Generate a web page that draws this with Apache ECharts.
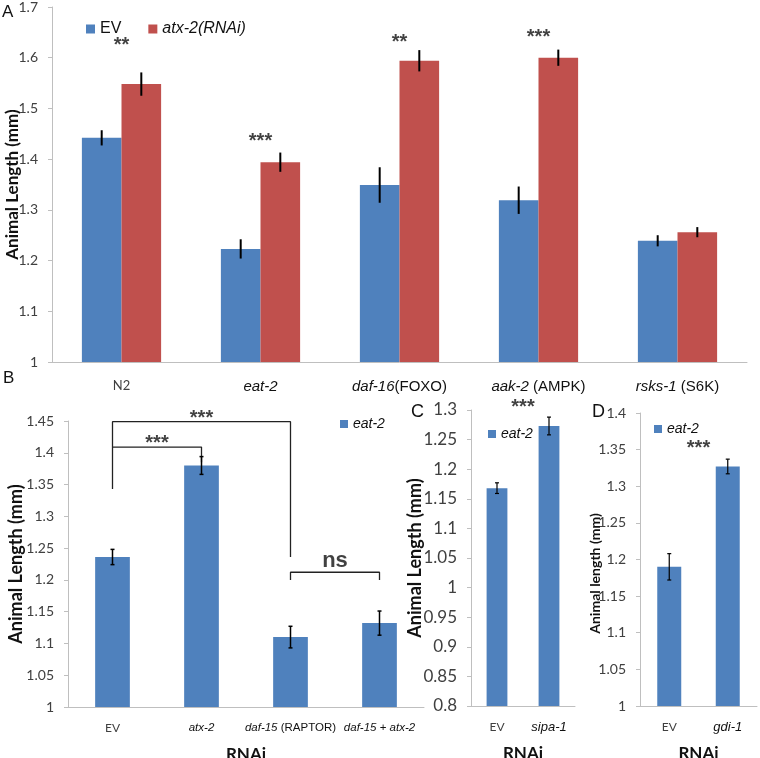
<!DOCTYPE html>
<html>
<head>
<meta charset="utf-8">
<script src="https://cdn.jsdelivr.net/npm/echarts@6/dist/echarts.min.js"></script>
<style>html,body{margin:0;padding:0;background:#fff;}#c{width:760px;height:758px;}</style>
</head>
<body>
<div id="c"></div>
<script>
// ---------- data ----------
const catsA = ['N2', 'eat-2', 'daf-16(FOXO)', 'aak-2 (AMPK)', 'rsks-1 (S6K)'];
const evA = [1.442, 1.223, 1.349, 1.319, 1.239];
const evErrA = [0.015, 0.019, 0.035, 0.027, 0.011];
const rnaiA = [1.548, 1.394, 1.594, 1.600, 1.256];
const rnaiErrA = [0.023, 0.019, 0.021, 0.016, 0.010];
const sigA = ['**', '***', '**', '***'];
const sigYA = [1.625, 1.435, 1.63, 1.64];

const catsB = ['EV', 'atx-2', 'daf-15 (RAPTOR)', 'daf-15 + atx-2'];
const valsB = [1.236, 1.380, 1.110, 1.132];
const errB = [0.012, 0.014, 0.017, 0.019];
const bracketsB = [
  [[0, 1.343], [0, 1.409], [1, 1.409], [1, 1.385]],
  [[0, 1.409], [0, 1.449], [2, 1.449], [2, 1.236]],
  [[2, 1.200], [2, 1.212], [3, 1.212], [3, 1.200]]
];
const sigB = [
  { text: '***', x: 0.5, y: 1.414 },
  { text: '***', x: 1.0, y: 1.454 },
  { text: 'ns', x: 2.5, y: 1.23 }
];

const catsC = ['EV', 'sipa-1'];
const valsC = [1.168, 1.273];
const errC = [0.009, 0.015];
const sigC = [{ text: '***', x: 0.5, y: 1.305 }];

const catsD = ['EV', 'gdi-1'];
const valsD = [1.190, 1.327];
const errD = [0.018, 0.010];
const sigD = [{ text: '***', x: 0.5, y: 1.352 }];

// ---------- styles ----------
const BLUE = '#4F81BD', RED = '#C0504D', AXIS = '#BFBFBF', TXT = '#404040';
const NUMFONT = 'Lato, "Open Sans", sans-serif';
const SANS = '"Liberation Sans", Arial, sans-serif';

function catFmt(name) {
  if (!/[a-z]+-\d+/.test(name)) return '{c|' + name + '}';
  return name.split(/([a-z]+-\d+)/).filter(s => s.length).map(s =>
    /^[a-z]+-\d+$/.test(s) ? '{i|' + s + '}' : '{n|' + s + '}').join('');
}
function catRich(sz, csz) {
  return {
    c: { fontFamily: NUMFONT, fontSize: csz, color: TXT },
    i: { fontFamily: SANS, fontStyle: 'italic', fontSize: sz, color: '#111' },
    n: { fontFamily: SANS, fontSize: sz, color: '#111' }
  };
}

function errSeries(name, xi, vals, errs, off, width, cap) {
  return {
    type: 'custom', name: name + '-err', xAxisIndex: xi, yAxisIndex: xi, silent: true, z: 5,
    data: vals.map((v, i) => [i, v, errs[i]]),
    renderItem: function (params, api) {
      const idx = api.value(0), v = api.value(1), e = api.value(2);
      const band = api.size([1, 0])[0];
      const top = api.coord([idx, v + e]);
      const bot = api.coord([idx, v - e]);
      const cx = top[0] + off * band;
      const style = { stroke: '#000', lineWidth: width };
      const children = [{ type: 'line', shape: { x1: cx, y1: top[1], x2: cx, y2: bot[1] }, style: style }];
      if (cap > 0) {
        children.push({ type: 'line', shape: { x1: cx - cap / 2, y1: top[1], x2: cx + cap / 2, y2: top[1] }, style: style });
        children.push({ type: 'line', shape: { x1: cx - cap / 2, y1: bot[1], x2: cx + cap / 2, y2: bot[1] }, style: style });
      }
      return { type: 'group', children: children };
    }
  };
}

function sigSeries(xi, yi, items, size) {
  return {
    type: 'scatter', xAxisIndex: xi, yAxisIndex: yi, symbolSize: 0, silent: true, clip: false, z: 6,
    data: items.map(it => ({ name: it.text, value: [it.x, it.y] })),
    label: { show: true, position: 'inside', formatter: '{b}', fontFamily: SANS, fontWeight: 'bold', fontSize: size, color: '#111' }
  };
}

function bracketSeries(xi, yi, pts) {
  return {
    type: 'line', xAxisIndex: xi, yAxisIndex: yi, data: pts, symbol: 'none', silent: true, clip: false, z: 4,
    lineStyle: { color: '#222', width: 1.3 }
  };
}

const gridBase = { containLabel: false, outerBoundsMode: 'none' };
const grids = [
  Object.assign({ left: 52, top: 7, width: 695, height: 355 }, gridBase),
  Object.assign({ left: 68, top: 421, width: 356, height: 286 }, gridBase),
  Object.assign({ left: 471, top: 410, width: 104, height: 296 }, gridBase),
  Object.assign({ left: 640, top: 413, width: 117, height: 293 }, gridBase)
];

function catAxis(gi, cats, sz, csz, margin, nameTxt) {
  return {
    type: 'category', gridIndex: gi, data: cats,
    axisLine: { onZero: false, lineStyle: { color: AXIS, width: 1 } },
    axisTick: { lineStyle: { color: AXIS }, length: 5 },
    axisLabel: { formatter: catFmt, rich: catRich(sz, csz), margin: margin, interval: 0, hideOverlap: false },
    name: nameTxt || '', nameLocation: 'middle', nameGap: 39, nameMoveOverlap: false,
    nameTextStyle: { fontFamily: NUMFONT, fontWeight: 'bold', fontSize: 17, color: '#111' }
  };
}
function valAxis(gi, min, max, interval, nameTxt, gap, fs, nfs, npad) {
  return {
    type: 'value', gridIndex: gi, min: min, max: max, interval: interval,
    splitLine: { show: false },
    axisLine: { show: true, onZero: false, lineStyle: { color: AXIS } },
    axisTick: { show: true, length: 4, lineStyle: { color: AXIS } },
    axisLabel: { fontFamily: NUMFONT, fontSize: fs, color: TXT, margin: 14 },
    name: nameTxt, nameLocation: 'middle', nameGap: gap, nameMoveOverlap: false,
    nameTextStyle: { fontFamily: NUMFONT, fontWeight: 'bold', fontSize: nfs, color: '#111', padding: npad || 0 }
  };
}
function hiddenX(gi, n) {
  return { type: 'value', gridIndex: gi, min: -0.5, max: n - 0.5, show: false, axisLine: { onZero: false } };
}

const option = {
  animation: false,
  grid: grids,
  xAxis: [
    catAxis(0, catsA, 15, 13, 17),
    catAxis(1, catsB, 11.5, 12, 15, 'RNAi'),
    catAxis(2, catsC, 13, 12, 15, 'RNAi'),
    catAxis(3, catsD, 13, 12, 15, 'RNAi'),
    hiddenX(1, catsB.length),
    hiddenX(2, catsC.length),
    hiddenX(3, catsD.length)
  ],
  yAxis: [
    valAxis(0, 1, 1.7, 0.1, 'Animal Length (mm)', 31, 14, 17),
    valAxis(1, 1, 1.45, 0.05, 'Animal Length (mm)', 43, 14, 18),
    valAxis(2, 0.8, 1.3, 0.05, 'Animal Length (mm)', 47, 17, 18),
    valAxis(3, 1, 1.4, 0.05, 'Animal length (mm)', 38, 14, 14, [0, 28, 0, 0])
  ],
  legend: [
    { left: 81, top: 16, itemWidth: 9, itemHeight: 9, itemGap: 27, icon: 'rect',
      data: [{ name: 'EV', textStyle: { fontFamily: SANS, fontSize: 16, color: '#111' } },
             { name: 'atx-2(RNAi)', textStyle: { fontFamily: SANS, fontStyle: 'italic', fontSize: 16, color: '#111' } }] },
    { left: 335, top: 412, itemWidth: 8, itemHeight: 8, icon: 'rect', selectedMode: false,
      data: [{ name: 'eat-2', textStyle: { fontFamily: SANS, fontStyle: 'italic', fontSize: 14, color: '#111' } }] },
    { left: 483, top: 422, itemWidth: 8, itemHeight: 8, icon: 'rect', selectedMode: false,
      data: [{ name: 'eat-2', textStyle: { fontFamily: SANS, fontStyle: 'italic', fontSize: 14, color: '#111' } }] },
    { left: 649, top: 417, itemWidth: 8, itemHeight: 8, icon: 'rect', selectedMode: false,
      data: [{ name: 'eat-2', textStyle: { fontFamily: SANS, fontStyle: 'italic', fontSize: 14, color: '#111' } }] }
  ],
  graphic: [
    { type: 'text', left: 2, top: 4, style: { text: 'A', font: '17px "Liberation Sans", Arial', fill: '#111' } },
    { type: 'text', left: 3, top: 370, style: { text: 'B', font: '17px "Liberation Sans", Arial', fill: '#111' } },
    { type: 'text', left: 411, top: 403, style: { text: 'C', font: '18px "Liberation Sans", Arial', fill: '#111' } },
    { type: 'text', left: 592, top: 403, style: { text: 'D', font: '18px "Liberation Sans", Arial', fill: '#111' } }
  ],
  series: [
    { type: 'bar', name: 'EV', xAxisIndex: 0, yAxisIndex: 0, data: evA, barWidth: '28.5%', barGap: '0%', itemStyle: { color: BLUE } },
    { type: 'bar', name: 'atx-2(RNAi)', xAxisIndex: 0, yAxisIndex: 0, data: rnaiA, barWidth: '28.5%', barGap: '0%', itemStyle: { color: RED } },
    errSeries('EV', 0, evA, evErrA, -0.1425, 2, 0),
    errSeries('RNAi', 0, rnaiA, rnaiErrA, 0.1425, 2, 0),
    sigSeries(0, 0, sigA.map((s, i) => ({ text: s, x: i, y: sigYA[i] })), 20),

    { type: 'bar', name: 'eat-2', xAxisIndex: 1, yAxisIndex: 1, data: valsB, barWidth: '39%', itemStyle: { color: BLUE } },
    errSeries('B', 1, valsB, errB, 0, 1.5, 4),
    ...bracketsB.map(p => bracketSeries(4, 1, p)),
    sigSeries(4, 1, sigB.slice(0, 2), 20),
    sigSeries(4, 1, sigB.slice(2), 22),

    { type: 'bar', name: 'eat-2', xAxisIndex: 2, yAxisIndex: 2, data: valsC, barWidth: '40%', itemStyle: { color: BLUE } },
    errSeries('C', 2, valsC, errC, 0, 1.2, 4),
    sigSeries(5, 2, sigC, 20),

    { type: 'bar', name: 'eat-2', xAxisIndex: 3, yAxisIndex: 3, data: valsD, barWidth: '41%', itemStyle: { color: BLUE } },
    errSeries('D', 3, valsD, errD, 0, 1.2, 4),
    sigSeries(6, 3, sigD, 20)
  ]
};

const chart = echarts.init(document.getElementById('c'), null, { renderer: 'canvas' });
chart.setOption(option);
</script>
</body>
</html>
